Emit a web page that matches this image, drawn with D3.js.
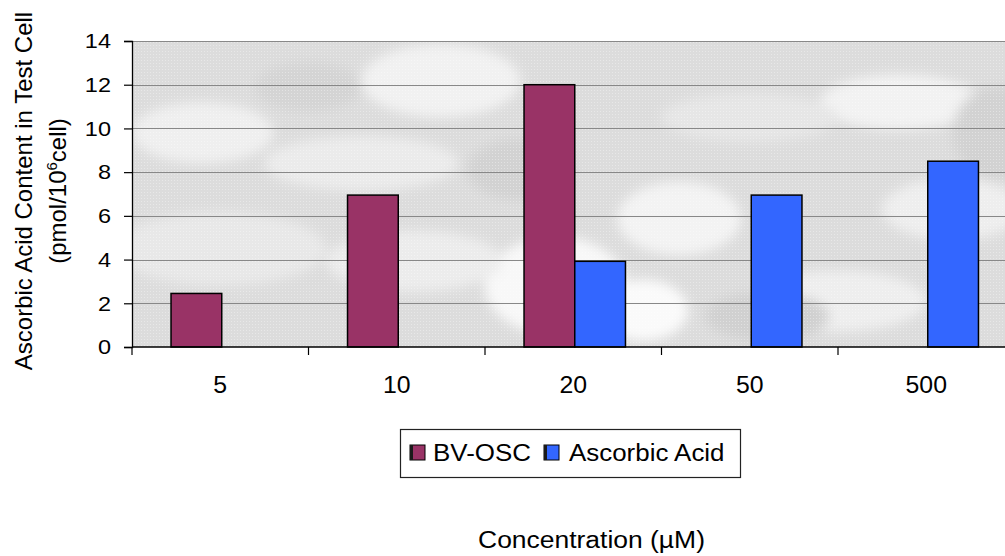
<!DOCTYPE html>
<html>
<head>
<meta charset="utf-8">
<script src="https://cdn.jsdelivr.net/npm/d3@7"></script>
<style>
  html, body { margin: 0; padding: 0; background: #ffffff; }
  svg { display: block; }
  text { font-family: "Liberation Sans", Arial, Helvetica, sans-serif; fill: #000; }
</style>
</head>
<body>
<svg id="chart" width="1005" height="556"></svg>
<script>
// ---- data ----
const categories = ["5", "10", "20", "50", "500"];
const seriesNames = ["BV-OSC", "Ascorbic Acid"];
const bvOsc = [2.45, 6.95, 12.0, null, null];
const ascorbicAcid = [null, null, 3.92, 6.95, 8.5];
const yTicks = [0, 2, 4, 6, 8, 10, 12, 14];
const seriesColors = ["#993366", "#3366FF"];
const yTitle1 = "Ascorbic Acid Content in Test Cell";
const xTitle = "Concentration (\u00B5M)";

// ---- layout ----
const svg = d3.select("#chart");
const plot = { left: 132, top: 41, right: 1014.5, bottom: 347 };
const stretch = 1.08;

const x0 = d3.scaleBand().domain(categories).range([plot.left, plot.right]).paddingInner(0).paddingOuter(0);
const x1 = d3.scaleBand().domain(seriesNames).range([1.5, x0.bandwidth() + 1.5]).paddingInner(0).paddingOuter(0.74);
const y = d3.scaleLinear().domain([0, 14]).range([plot.bottom, plot.top]);

// ---- background (photo-like texture, approximated) ----
const defs = svg.append("defs");
defs.append("clipPath").attr("id", "plotclip")
  .append("rect").attr("x", plot.left).attr("y", plot.top)
  .attr("width", plot.right - plot.left).attr("height", plot.bottom - plot.top);
defs.append("filter").attr("id", "blur").attr("x", "-20%").attr("y", "-20%").attr("width", "140%").attr("height", "140%")
  .append("feGaussianBlur").attr("stdDeviation", 6);
const pat = defs.append("pattern").attr("id", "dots").attr("width", 3).attr("height", 3)
  .attr("patternUnits", "userSpaceOnUse");
pat.append("rect").attr("x", 0).attr("y", 0).attr("width", 1).attr("height", 1).attr("fill", "#ffffff").attr("opacity", 0.35);

const bg = svg.append("g").attr("clip-path", "url(#plotclip)");
bg.append("rect").attr("x", plot.left).attr("y", plot.top)
  .attr("width", plot.right - plot.left).attr("height", plot.bottom - plot.top)
  .attr("fill", "#dcdcdc");
// blobs in plot-relative fractions: [fx, fy, frx, fry, color]
const blobs = [
  [0.35, 0.13, 0.09, 0.12, "#f1f1f1"],
  [0.26, 0.40, 0.11, 0.09, "#ebebeb"],
  [0.08, 0.30, 0.08, 0.10, "#efefef"],
  [0.10, 0.68, 0.12, 0.12, "#e8e8e8"],
  [0.48, 0.80, 0.08, 0.16, "#f8f8f8"],
  [0.32, 0.72, 0.10, 0.10, "#ececec"],
  [0.62, 0.58, 0.07, 0.12, "#f3f3f3"],
  [0.58, 0.88, 0.05, 0.10, "#fafafa"],
  [0.87, 0.20, 0.09, 0.09, "#f2f2f2"],
  [0.93, 0.55, 0.08, 0.10, "#eeeeee"],
  [0.80, 0.85, 0.10, 0.10, "#eeeeee"],
  [0.70, 0.25, 0.10, 0.08, "#e6e6e6"],
  [0.20, 0.15, 0.06, 0.08, "#d4d4d4"],
  [0.44, 0.42, 0.06, 0.10, "#d2d2d2"],
  [0.72, 0.90, 0.07, 0.08, "#d0d0d0"],
  [0.98, 0.30, 0.05, 0.15, "#d2d2d2"]
];
const W = plot.right - plot.left, H = plot.bottom - plot.top;
bg.append("g").attr("filter", "url(#blur)")
  .selectAll("ellipse").data(blobs).join("ellipse")
  .attr("cx", d => plot.left + d[0] * W)
  .attr("cy", d => plot.top + d[1] * H)
  .attr("rx", d => d[2] * W)
  .attr("ry", d => d[3] * H)
  .attr("fill", d => d[4]);
bg.append("rect").attr("x", plot.left).attr("y", plot.top)
  .attr("width", W).attr("height", H).attr("fill", "url(#dots)");

// ---- gridlines ----
svg.append("g").selectAll("line").data(yTicks.filter(t => t > 0)).join("line")
  .attr("x1", plot.left).attr("x2", plot.right)
  .attr("y1", d => Math.round(y(d)) + 0.5).attr("y2", d => Math.round(y(d)) + 0.5)
  .attr("stroke", "#888888").attr("stroke-width", 1.2);

// ---- bars ----
const rows = categories.map((c, i) => ({ cat: c, vals: [bvOsc[i], ascorbicAcid[i]] }));
const groups = svg.append("g").selectAll("g").data(rows).join("g")
  .attr("transform", d => `translate(${x0(d.cat)},0)`);
groups.selectAll("rect")
  .data(d => d.vals.map((v, j) => ({ name: seriesNames[j], v, j })).filter(e => e.v != null))
  .join("rect")
  .attr("x", e => x1(e.name))
  .attr("width", x1.bandwidth())
  .attr("y", e => y(e.v))
  .attr("height", e => y(0) - y(e.v))
  .attr("fill", e => seriesColors[e.j])
  .attr("stroke", "#000").attr("stroke-width", 1.5);

// ---- axes ----
const yAxis = svg.append("g").attr("transform", `translate(${plot.left},0)`)
  .call(d3.axisLeft(y).tickValues(yTicks).tickSize(8).tickPadding(13).tickFormat(d3.format("d")));
yAxis.select(".domain").attr("stroke", "#000").attr("stroke-width", 1.3);
yAxis.selectAll(".tick line").attr("stroke", "#000").attr("stroke-width", 1.2);
yAxis.selectAll(".tick text")
  .attr("font-size", 21).attr("font-family", "Liberation Sans, Arial, sans-serif").attr("fill", "#000")
  .each(function () {
    const t = d3.select(this); const xx = +t.attr("x");
    t.attr("x", 0).attr("transform", `translate(${xx},0) scale(1.12,1)`);
  });

const xAxis = svg.append("g").attr("transform", `translate(0,${plot.bottom})`);
xAxis.append("line").attr("x1", plot.left).attr("x2", plot.right).attr("y1", 0).attr("y2", 0)
  .attr("stroke", "#000").attr("stroke-width", 1.3);
const boundaries = categories.map(c => x0(c)).concat([plot.right]);
xAxis.selectAll("line.tk").data(boundaries).join("line").attr("class", "tk")
  .attr("x1", d => d).attr("x2", d => d).attr("y1", 0).attr("y2", 8)
  .attr("stroke", "#000").attr("stroke-width", 1.2);
xAxis.selectAll("text").data(categories).join("text")
  .attr("text-anchor", "middle").attr("font-size", 23)
  .attr("transform", c => `translate(${x0(c) + x0.bandwidth() / 2},46) scale(${stretch},1)`)
  .text(c => c);

// ---- y axis title (two lines, rotated) ----
const yt = svg.append("g").attr("transform", `translate(0,${(plot.top + plot.bottom) / 2 - 3})`);
yt.append("text").attr("text-anchor", "middle").attr("font-size", 24)
  .attr("transform", "translate(32,0) rotate(-90)")
  .text(yTitle1);
const l2 = yt.append("text").attr("text-anchor", "middle").attr("font-size", 24)
  .attr("transform", "translate(66,0) rotate(-90)");
l2.append("tspan").text("(pmol/10");
l2.append("tspan").attr("dy", -9).attr("font-size", 15).text("6");
l2.append("tspan").attr("dy", 9).text("cell)");

// ---- legend ----
const lg = svg.append("g");
lg.append("rect").attr("x", 400.5).attr("y", 429.5).attr("width", 340).attr("height", 48)
  .attr("fill", "#fff").attr("stroke", "#222").attr("stroke-width", 1.2);
const legendItems = [
  { name: seriesNames[0], color: seriesColors[0], sx: 410, tx: 433 },
  { name: seriesNames[1], color: seriesColors[1], sx: 544, tx: 569 }
];
const li = lg.selectAll("g.item").data(legendItems).join("g").attr("class", "item");
li.append("rect").attr("x", d => d.sx).attr("y", 445).attr("width", 15).attr("height", 15)
  .attr("fill", d => d.color).attr("stroke", "#000").attr("stroke-width", 1);
li.append("rect").attr("x", d => d.sx).attr("y", 445).attr("width", 3).attr("height", 15)
  .attr("fill", "#1a1a1a");
li.append("text").attr("font-size", 24)
  .attr("transform", d => `translate(${d.tx},461) scale(1.08,1)`)
  .text(d => d.name);

// ---- x axis title ----
svg.append("text").attr("text-anchor", "middle").attr("font-size", 24.5)
  .attr("transform", `translate(591.5,548) scale(${stretch},1)`)
  .text(xTitle);
</script>
</body>
</html>
